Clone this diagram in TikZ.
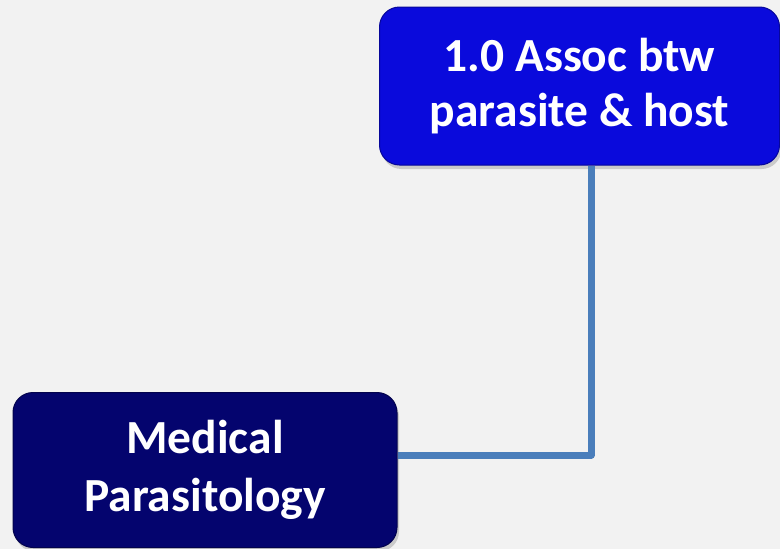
\documentclass[tikz,border=0pt]{standalone}
\usepackage{fontspec}
\setmainfont{Carlito}
\usetikzlibrary{positioning,shadows}
\definecolor{bgcol}{HTML}{F2F2F2}
\definecolor{topblue}{HTML}{0A0ADC}
\definecolor{navyblue}{HTML}{04046E}
\definecolor{linkblue}{HTML}{4A7EBB}
\tikzset{
  topicbox/.style={rectangle,rounded corners=20pt,draw=#1!70!black,line width=1pt,
    fill=#1,text=white,align=center,
    drop shadow={shadow xshift=2pt,shadow yshift=-4pt,opacity=0.35}},
  link/.style={draw=linkblue,line width=7pt,line join=round}
}
\begin{document}
\begin{tikzpicture}[x=1pt,y=-1pt]
        % Page frame: 780 x 549 units, y grows downward.
        \fill[bgcol] (0,0) rectangle (780,549);
        \useasboundingbox (0,0) rectangle (780,549);
        \node[topicbox=topblue,minimum width=400pt,minimum height=158pt,
          font=\fontsize{47.5}{55}\selectfont\bfseries] (assoc) at (579.5,86) {1.0 Assoc btw\\parasite \& host};
        \node[topicbox=navyblue,minimum width=384pt,minimum height=155pt,
          font=\fontsize{47.5}{58}\selectfont\bfseries] (medpar) at (205,470) {Medical\\Parasitology};
        \coordinate (elbow) at (591,455);
        \draw[link] (assoc.south -| elbow) -- (elbow) -- (elbow -| medpar.east);
      \end{tikzpicture}
\end{document}
